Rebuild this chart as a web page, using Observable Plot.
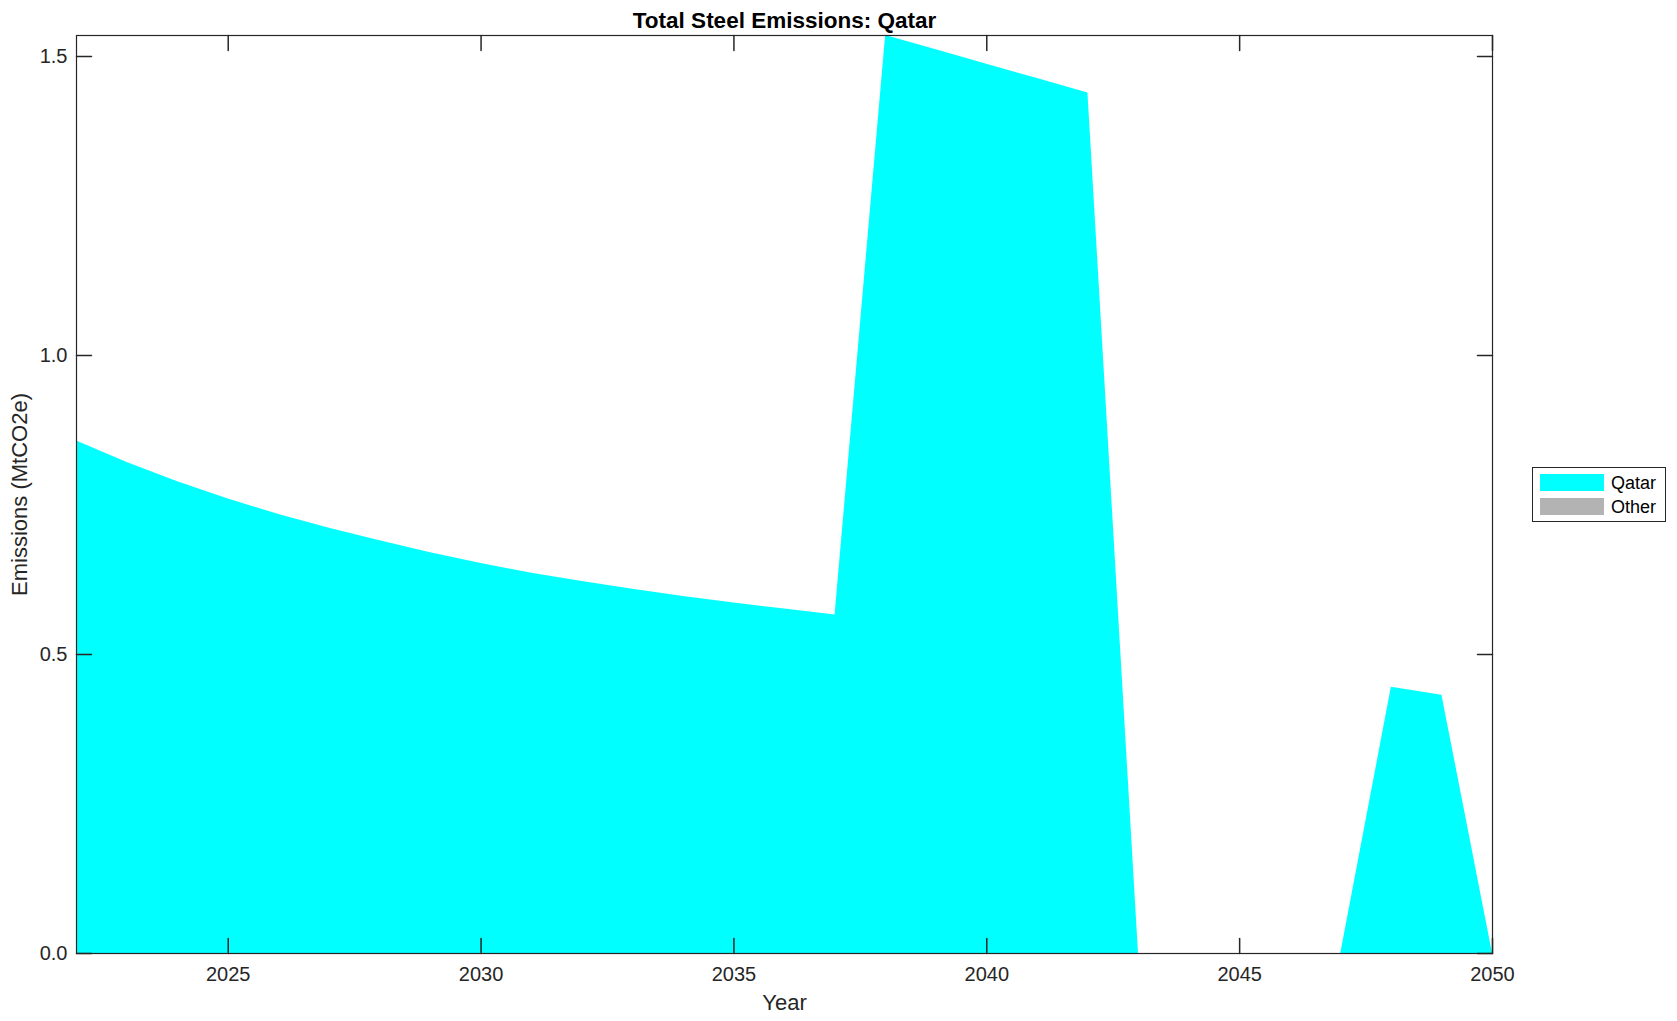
<!DOCTYPE html>
<html>
<head>
<meta charset="utf-8">
<script src="https://cdn.jsdelivr.net/npm/d3@7"></script>
<script src="https://cdn.jsdelivr.net/npm/@observablehq/plot@0.6"></script>
<style>
  body { margin: 0; background: #fff; font-family: "Liberation Sans", Arial, Helvetica, sans-serif; }
  #wrap { position: relative; width: 1677px; height: 1021px; }
  #legend { position: absolute; left: 1532px; top: 467px; width: 132px; height: 53px;
            border: 1px solid #262626; background: #fff; box-sizing: content-box; }
  .sw { position: absolute; left: 7px; width: 64px; height: 17px; }
  .lt { position: absolute; left: 78px; font-size: 18px; line-height: 18px; color: #000; }
</style>
</head>
<body>
<div id="wrap">
  <div id="chart"></div>
  <div id="legend"></div>
</div>
<script>
// ---- data ----
const years = [2022, 2023, 2024, 2025, 2026, 2027, 2028, 2029, 2030, 2031,
               2032, 2033, 2034, 2035, 2036, 2037, 2038, 2039, 2040, 2041,
               2042, 2043, 2044, 2045, 2046, 2047, 2048, 2049, 2050];
const qatar = [0.857, 0.821, 0.789, 0.760, 0.734, 0.711, 0.690, 0.670, 0.652, 0.636,
               0.622, 0.609, 0.597, 0.586, 0.576, 0.566, 1.535, 1.511, 1.487, 1.463,
               1.439, 0, 0, 0, 0, 0, 0.445, 0.432, 0];
const other = [0, 0, 0, 0, 0, 0, 0, 0, 0, 0,
               0, 0, 0, 0, 0, 0, 0, 0, 0, 0,
               0, 0, 0, 0, 0, 0, 0, 0, 0];
const seriesNames = ["Qatar", "Other"];
const seriesColors = ["#00FFFF", "#B3B3B3"];
const xTicks = [2025, 2030, 2035, 2040, 2045, 2050];
const yTicks = [0, 0.5, 1.0, 1.5];
const titleText = "Total Steel Emissions: Qatar";
const xLabel = "Year";
const yLabel = "Emissions (MtCO2e)";

// ---- table ----
const data = [];
years.forEach((yr, i) => {
  data.push({year: yr, series: "Qatar", value: qatar[i]});
  data.push({year: yr, series: "Other", value: other[i]});
});

const axisColor = "#262626";
const tickShape = { draw(ctx, l) { ctx.moveTo(0, 0); ctx.lineTo(0, -l); } };

const chart = Plot.plot({
  width: 1677,
  height: 1021,
  marginLeft: 76,
  marginRight: 185,
  marginTop: 35,
  marginBottom: 68,
  style: { fontFamily: "Liberation Sans, Arial, Helvetica, sans-serif", color: axisColor, background: "#fff" },
  x: { domain: [2022, 2050] },
  y: { domain: [0, d3.max(qatar)] },
  color: { domain: seriesNames, range: seriesColors },
  marks: [
    Plot.areaY(data, { x: "year", y: "value", fill: "series", z: "series", curve: "linear", order: seriesNames }),
    // inward ticks on all four sides
    Plot.vectorX(xTicks, { x: d => d, frameAnchor: "bottom", length: 15, rotate: 0, anchor: "start", shape: tickShape, stroke: axisColor }),
    Plot.vectorX(xTicks, { x: d => d, frameAnchor: "top", length: 15, rotate: 180, anchor: "start", shape: tickShape, stroke: axisColor }),
    Plot.vectorY(yTicks, { y: d => d, frameAnchor: "left", length: 15, rotate: 90, anchor: "start", shape: tickShape, stroke: axisColor }),
    Plot.vectorY(yTicks, { y: d => d, frameAnchor: "right", length: 15, rotate: -90, anchor: "start", shape: tickShape, stroke: axisColor }),
    Plot.frame({ stroke: axisColor, strokeWidth: 1.2 }),
    Plot.axisX(xTicks, { anchor: "bottom", tickSize: 0, tickPadding: 13, fontSize: 20, tickFormat: d => String(d), label: null }),
    Plot.axisY(yTicks, { anchor: "left", tickSize: 0, tickPadding: 9, fontSize: 20, tickFormat: d3.format(".1f"), label: null }),
    Plot.text([titleText], { frameAnchor: "top", textAnchor: "middle", lineAnchor: "bottom", dy: -8, fontSize: 22.5, fontWeight: "bold", fill: "#000" }),
    Plot.text([xLabel], { frameAnchor: "bottom", textAnchor: "middle", lineAnchor: "middle", dy: 49, fontSize: 22, fill: axisColor }),
    Plot.text([yLabel], { frameAnchor: "left", textAnchor: "middle", lineAnchor: "middle", rotate: -90, dx: -57, fontSize: 22, fill: axisColor })
  ]
});
document.getElementById("chart").appendChild(chart);

// ---- legend ----
const legend = document.getElementById("legend");
seriesNames.forEach((name, i) => {
  const sw = document.createElement("div");
  sw.className = "sw";
  sw.style.top = (6 + i * 23.5) + "px";
  sw.style.background = seriesColors[i];
  legend.appendChild(sw);
  const t = document.createElement("div");
  t.className = "lt";
  t.style.top = (6 + i * 23.5) + "px";
  t.textContent = name;
  legend.appendChild(t);
});
</script>
</body>
</html>
